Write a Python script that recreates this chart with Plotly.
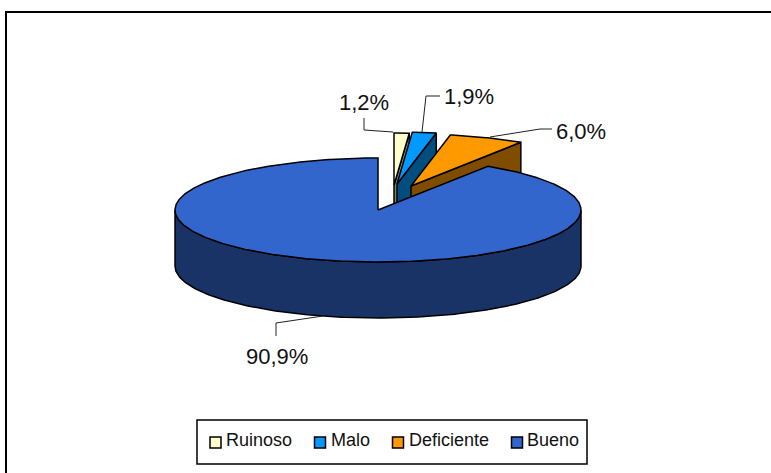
import numpy as np
import plotly.graph_objects as go

# --- data ---
categories = ["Ruinoso", "Malo", "Deficiente", "Bueno"]
values = [1.2, 1.9, 6.0, 90.9]
labels = ["1,2%", "1,9%", "6,0%", "90,9%"]

# --- style ---
top_colors = ["#FFFFCC", "#0099FF", "#FF9900", "#3366CC"]
side_colors = ["#808066", "#004D80", "#804D00", "#1A3366"]
FONT = "Liberation Sans, Arial, sans-serif"

# --- pie geometry in page pixels ---
RX, RY, DEPTH = 203, 52, 56
centers = [(394, 185), (397, 184), (411, 186), (378, 210)]
W, H = 771, 473


def rim(c, t):
    t = np.radians(t)
    return c[0] + RX * np.sin(t), c[1] - RY * np.cos(t)


def poly(x, y, fill):
    return go.Scatter(
        x=list(x), y=list(y), mode="lines", fill="toself", fillcolor=fill,
        line=dict(color="black", width=1.5), hoverinfo="skip", showlegend=False,
    )


traces = []
edges = np.cumsum([0] + values) * 3.6
for i, (c, start, end) in enumerate(zip(centers, edges[:-1], edges[1:])):
    ts = np.linspace(start, end, max(4, int(end - start) * 2))
    rx, ry = rim(c, ts)
    if i < 3:
        # cut face visible at the clockwise end of the slice
        ex, ey = rim(c, end)
        traces.append(poly([c[0], ex, ex, c[0], c[0]],
                           [c[1], ey, ey + DEPTH, c[1] + DEPTH, c[1]], side_colors[i]))
    else:
        # outer wall of the front half
        tw = np.linspace(90, 270, 200)
        wx, wy = rim(c, tw)
        traces.append(poly(np.r_[wx, wx[::-1], wx[0]],
                           np.r_[wy, wy[::-1] + DEPTH, wy[0]], side_colors[i]))
    traces.append(poly(np.r_[c[0], rx, c[0]], np.r_[c[1], ry, c[1]], top_colors[i]))

# leader lines
leaders = [
    ([364, 364, 393], [118, 130, 132]),
    ([440, 426, 422], [96, 96, 132]),
    ([552, 540, 490], [129, 129, 137]),
    ([276, 276, 323], [336, 323, 316]),
]
for lx, ly in leaders:
    traces.append(go.Scatter(x=lx, y=ly, mode="lines", line=dict(color="#222222", width=1),
                             hoverinfo="skip", showlegend=False))

# legend swatches
swatch_x = [215.5, 320, 398, 517]
traces.append(go.Scatter(
    x=swatch_x, y=[442.5] * 4, mode="markers", hoverinfo="skip", showlegend=False,
    marker=dict(symbol="square", size=11, color=top_colors, line=dict(color="black", width=1.5)),
))

fig = go.Figure(traces)

label_pos = [(364, 102), (469, 96), (581, 131), (277, 356)]
annotations = [
    dict(x=x, y=y, text=t, showarrow=False, xanchor="center", yanchor="middle",
         font=dict(family=FONT, size=22, color="#111111"))
    for (x, y), t in zip(label_pos, labels)
]
legend_text_x = [226, 331, 409, 527]
annotations += [
    dict(x=x, y=440, text=t, showarrow=False, xanchor="left", yanchor="middle",
         font=dict(family=FONT, size=18, color="#111111"), xshift=-2)
    for x, t in zip(legend_text_x, categories)
]

shapes = [
    dict(type="rect", x0=6, y0=12, x1=790, y1=490, line=dict(color="black", width=2)),
    dict(type="rect", x0=197, y0=420, x1=587, y1=464, line=dict(color="black", width=1.5), layer="below"),
]

fig.update_layout(
    width=W, height=H, margin=dict(l=0, r=0, t=0, b=0),
    paper_bgcolor="white", plot_bgcolor="white", showlegend=False,
    xaxis=dict(range=[0, W], visible=False, fixedrange=True),
    yaxis=dict(range=[H, 0], visible=False, fixedrange=True),
    annotations=annotations, shapes=shapes,
)
fig.write_html("out.html", config={"displayModeBar": False},
               post_script="document.body.style.margin='0';document.body.style.overflow='hidden';")
